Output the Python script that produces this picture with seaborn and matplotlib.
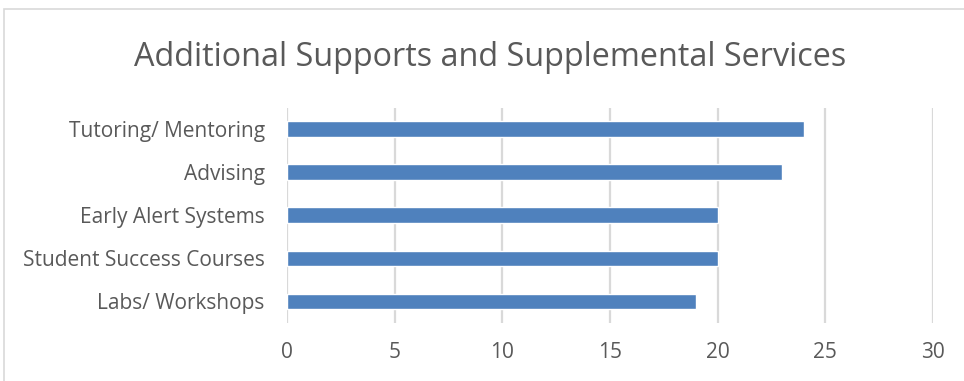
import matplotlib
matplotlib.use("Agg")
import matplotlib.pyplot as plt
import seaborn as sns
import pandas as pd
from matplotlib.patches import Rectangle

categories = ["Tutoring/ Mentoring", "Advising", "Early Alert Systems",
              "Student Success Courses", "Labs/ Workshops"]
values = [24, 23, 20, 20, 19]
xticks = [0, 5, 10, 15, 20, 25, 30]
title = "Additional Supports and Supplemental Services"

df = pd.DataFrame({"cat": categories, "val": values})

sns.set_theme(style="white")
plt.rcParams['font.family'] = ['Open Sans', 'DejaVu Sans']
text_color = "#595959"
grid_color = "#D9D9D9"

fig = plt.figure(figsize=(9.64, 3.81), dpi=100)
ax = fig.add_axes([287/964, 1-323/381, (933-287)/964, (323-107.5)/381])

sns.barplot(data=df, x="val", y="cat", orient="h", color="#4F81BD",
            saturation=1, width=0.36, ax=ax, zorder=3)

ax.set_xlim(0, 30)
ax.set_ylim(4.5, -0.5)
ax.set_xticks(xticks)
ax.set_xticklabels([str(t) for t in xticks])
ax.set_xlabel("")
ax.set_ylabel("")
for s in ax.spines.values():
    s.set_visible(False)
ax.grid(axis="x", color=grid_color, linewidth=1.6, zorder=0)
ax.grid(axis="y", visible=False)
ax.tick_params(axis="both", length=0, colors=text_color, labelsize=15)
ax.tick_params(axis="y", pad=16)
ax.tick_params(axis="x", pad=14)

fig.text(490/964, 1-58/381, title, ha="center", va="center",
         fontsize=23.3, color=text_color)

fig.patches.append(Rectangle((4/964, -0.1), 1.2, (381-9)/381 + 0.1,
                             transform=fig.transFigure, fill=False,
                             edgecolor=grid_color, linewidth=1.2))

fig.savefig("out.png", dpi=100)
